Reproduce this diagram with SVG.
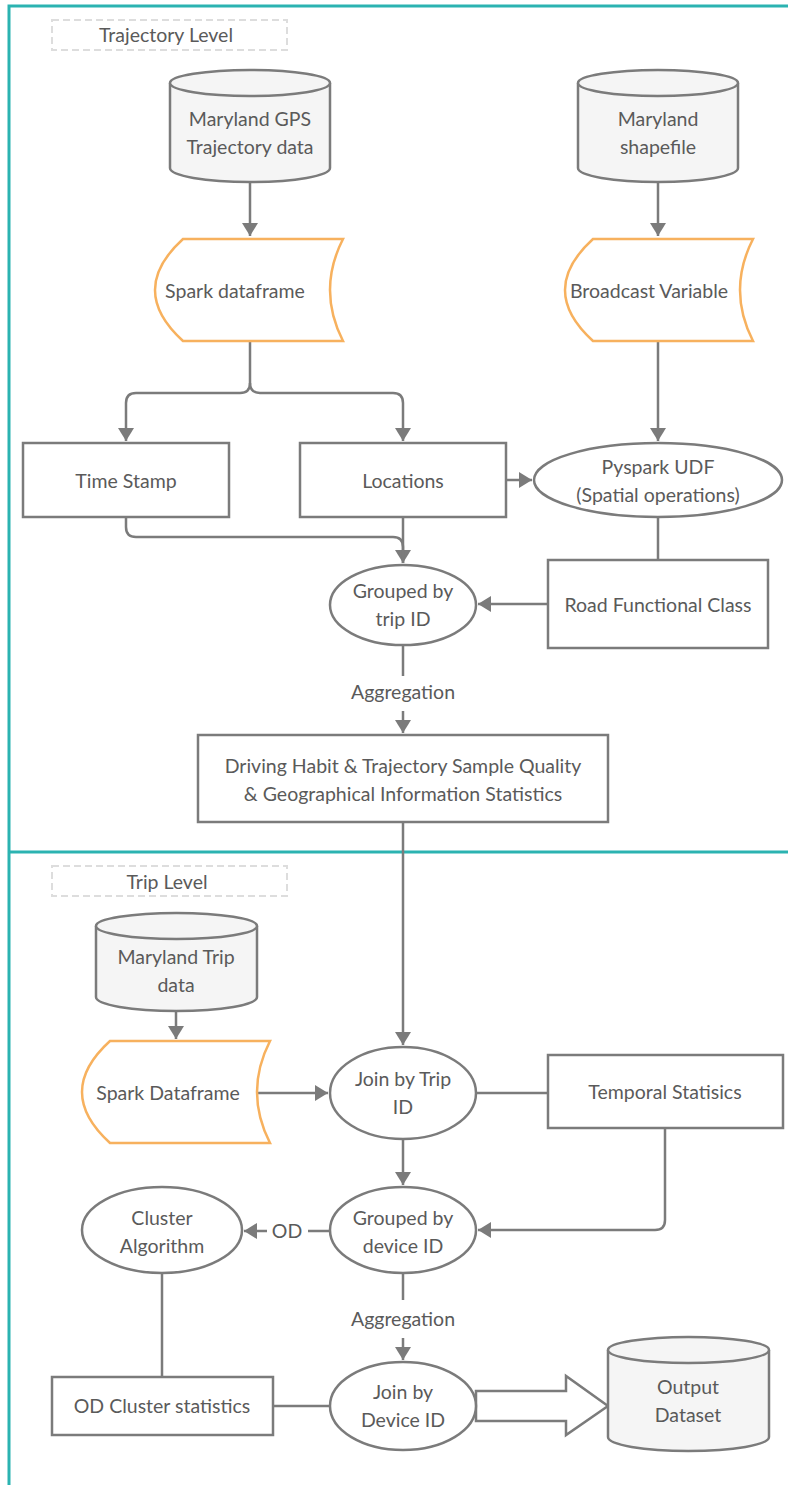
<svg xmlns="http://www.w3.org/2000/svg" width="788" height="1485" viewBox="0 0 788 1485">
<style>
.t{font-family:Lato,"Open Sans","Liberation Sans",sans-serif;font-size:19.5px;fill:#5a5a5a;text-anchor:middle}
.lb{font-size:19.5px}
.n{fill:#fff;stroke:#7b7b7b;stroke-width:2.5}
.db{fill:#f5f5f5;stroke:#7b7b7b;stroke-width:2.5}
.sp{fill:#fff;stroke:#f7b15e;stroke-width:2.5}
.c{fill:none;stroke:#7b7b7b;stroke-width:2.5}
.lvl{fill:#fff;stroke:#dddddd;stroke-width:2;stroke-dasharray:7 4}
.frame{fill:none;stroke:#2bb3b1;stroke-width:3}
</style>
<defs>
<marker id="ah" markerUnits="userSpaceOnUse" markerWidth="16" markerHeight="16" refX="13" refY="8" orient="auto">
<path d="M0,0 L13,8 L0,16 Z" fill="#7b7b7b"/>
</marker>
</defs>
<rect width="788" height="1485" fill="#fff"/>
<g id="frame">
<path class="frame" d="M9,1485 V6 H788"/>
<path class="frame" d="M9,852 H788"/>
</g>
<g id="lvl-trajectory"><rect class="lvl" x="52" y="20" width="235" height="30"/><text class="t lb" x="166" y="42">Trajectory Level</text></g>
<g id="lvl-trip"><rect class="lvl" x="52" y="866" width="235" height="30"/><text class="t lb" x="167" y="889">Trip Level</text></g>

<g id="connectors">
<path class="c" d="M250,183 V236" marker-end="url(#ah)"/>
<path class="c" d="M658,183 V236" marker-end="url(#ah)"/>
<path class="c" d="M250,341 V383 Q250,393 240,393 H136 Q126,393 126,403 V441" marker-end="url(#ah)"/>
<path class="c" d="M250,383 Q250,393 260,393 H393 Q403,393 403,403 V441" marker-end="url(#ah)"/>
<path class="c" d="M658,341 V441" marker-end="url(#ah)"/>
<path class="c" d="M506,480 H532" marker-end="url(#ah)"/>
<path class="c" d="M658,517 V560"/>
<path class="c" d="M548,604 H478" marker-end="url(#ah)"/>
<path class="c" d="M126,517 V527 Q126,537 136,537 H393 Q403,537 403,547 V563" marker-end="url(#ah)"/>
<path class="c" d="M403,517 V563"/>
<path class="c" d="M403,645 V676"/>
<text class="t lb" x="403" y="699">Aggregation</text>
<path class="c" d="M403,711 V733" marker-end="url(#ah)"/>
<path class="c" d="M403,822 V1045" marker-end="url(#ah)"/>
<path class="c" d="M176,1011 V1039" marker-end="url(#ah)"/>
<path class="c" d="M257,1093 H328" marker-end="url(#ah)"/>
<path class="c" d="M476,1093 H548"/>
<path class="c" d="M403,1139 V1185" marker-end="url(#ah)"/>
<path class="c" d="M665,1128 V1220 Q665,1230 655,1230 H478" marker-end="url(#ah)"/>
<path class="c" d="M330,1231 H308"/>
<text class="t lb" x="287" y="1238">OD</text>
<path class="c" d="M267,1231 H244" marker-end="url(#ah)"/>
<path class="c" d="M162,1273 V1377"/>
<path class="c" d="M403,1273 V1300"/>
<text class="t lb" x="403" y="1326">Aggregation</text>
<path class="c" d="M403,1338 V1360" marker-end="url(#ah)"/>
<path class="c" d="M273,1406 H330"/>
<polygon class="n" points="476,1391 566,1391 566,1376 608,1406 566,1435 566,1421 476,1421"/>
</g>

<g id="gps-data">
<path class="db" d="M170,83 V168 A80,14 0 0 0 330,168 V83"/>
<ellipse class="db" cx="250" cy="83" rx="80" ry="13"/>
<text class="t" x="250" y="126">Maryland GPS</text>
<text class="t" x="250" y="154">Trajectory data</text>
</g>
<g id="shapefile">
<path class="db" d="M578,83 V168 A80,14 0 0 0 738,168 V83"/>
<ellipse class="db" cx="658" cy="83" rx="80" ry="13"/>
<text class="t" x="658" y="126">Maryland</text>
<text class="t" x="658" y="154">shapefile</text>
</g>
<g id="spark-df1">
<path class="sp" d="M183,239 H343 Q317,290 343,341 H183 Q127,290 183,239 Z"/>
<text class="t" x="235" y="298">Spark dataframe</text>
</g>
<g id="broadcast">
<path class="sp" d="M593,239 H753 Q727,290 753,341 H593 Q537,290 593,239 Z"/>
<text class="t" x="649" y="298">Broadcast Variable</text>
</g>
<g id="timestamp"><rect class="n" x="23" y="443" width="206" height="74"/><text class="t" x="126" y="488">Time Stamp</text></g>
<g id="locations"><rect class="n" x="300" y="443" width="206" height="74"/><text class="t" x="403" y="488">Locations</text></g>
<g id="udf">
<ellipse class="n" cx="658" cy="480" rx="124" ry="37"/>
<text class="t" x="658" y="474">Pyspark UDF</text>
<text class="t" x="658" y="502">(Spatial operations)</text>
</g>
<g id="road-class"><rect class="n" x="548" y="560" width="220" height="88"/><text class="t" x="658" y="612">Road Functional Class</text></g>
<g id="grouped-trip">
<ellipse class="n" cx="403" cy="605" rx="73" ry="40"/>
<text class="t" x="403" y="598">Grouped by</text>
<text class="t" x="403" y="626">trip ID</text>
</g>
<g id="stats">
<rect class="n" x="198" y="735" width="410" height="87"/>
<text class="t" x="403" y="773">Driving Habit &amp; Trajectory Sample Quality</text>
<text class="t" x="403" y="801">&amp; Geographical Information Statistics</text>
</g>
<g id="trip-data">
<path class="db" d="M96,926 V997 A80.5,14 0 0 0 257,997 V926"/>
<ellipse class="db" cx="176.5" cy="926" rx="80.5" ry="13"/>
<text class="t" x="176" y="964">Maryland Trip</text>
<text class="t" x="176" y="992">data</text>
</g>
<g id="spark-df2">
<path class="sp" d="M110,1041 H270 Q244,1092 270,1143 H110 Q54,1092 110,1041 Z"/>
<text class="t" x="168" y="1100">Spark Dataframe</text>
</g>
<g id="join-trip">
<ellipse class="n" cx="403" cy="1093" rx="73" ry="46"/>
<text class="t" x="403" y="1086">Join by Trip</text>
<text class="t" x="403" y="1114">ID</text>
</g>
<g id="temporal"><rect class="n" x="548" y="1055" width="235" height="73"/><text class="t" x="665" y="1099">Temporal Statisics</text></g>
<g id="grouped-device">
<ellipse class="n" cx="403" cy="1230" rx="73" ry="43"/>
<text class="t" x="403" y="1225">Grouped by</text>
<text class="t" x="403" y="1253">device ID</text>
</g>
<g id="cluster">
<ellipse class="n" cx="162" cy="1230" rx="80" ry="43"/>
<text class="t" x="162" y="1225">Cluster</text>
<text class="t" x="162" y="1253">Algorithm</text>
</g>
<g id="od-stats"><rect class="n" x="52" y="1377" width="221" height="58"/><text class="t" x="162" y="1413">OD Cluster statistics</text></g>
<g id="join-device">
<ellipse class="n" cx="403" cy="1406" rx="73" ry="44"/>
<text class="t" x="403" y="1399">Join by</text>
<text class="t" x="403" y="1427">Device ID</text>
</g>
<g id="output">
<path class="db" d="M608,1350 V1437 A80.5,14 0 0 0 769,1437 V1350"/>
<ellipse class="db" cx="688.5" cy="1350" rx="80.5" ry="13"/>
<text class="t" x="688" y="1394">Output</text>
<text class="t" x="688" y="1422">Dataset</text>
</g>
</svg>
